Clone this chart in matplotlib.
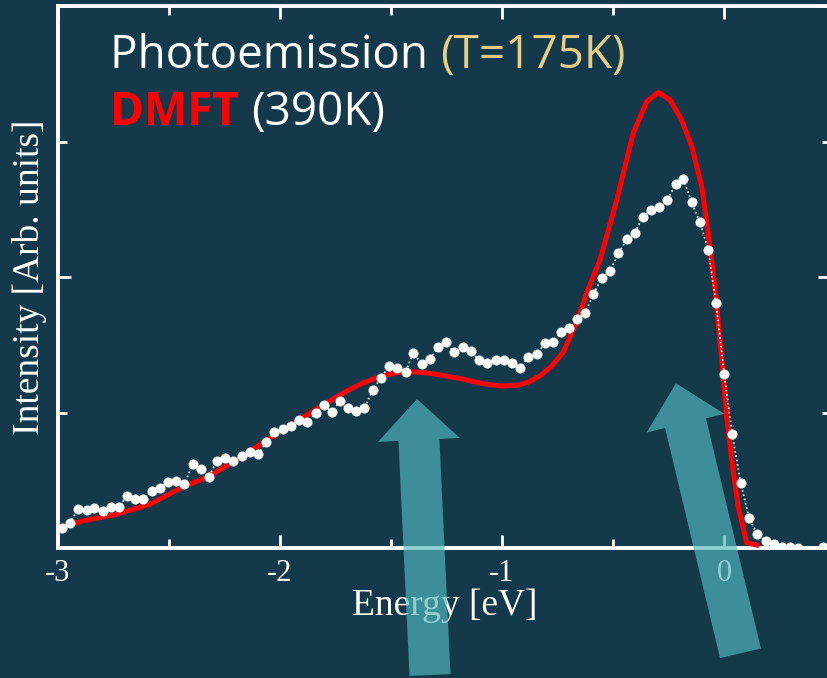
import matplotlib
matplotlib.use('Agg')
import matplotlib.pyplot as plt
from matplotlib.patches import FancyArrow
from matplotlib.transforms import IdentityTransform
from matplotlib.ticker import MultipleLocator, NullFormatter

# photoemission data (T=175K)
energy_pes = [-2.983, -2.946, -2.909, -2.871, -2.836, -2.799, -2.761, -2.725,
              -2.691, -2.653, -2.616, -2.578, -2.541, -2.503, -2.468, -2.431,
              -2.393, -2.356, -2.320, -2.285, -2.248, -2.210, -2.173, -2.135,
              -2.098, -2.063, -2.026, -1.988, -1.952, -1.914, -1.877, -1.839,
              -1.802, -1.767, -1.730, -1.692, -1.658, -1.620, -1.582, -1.545,
              -1.509, -1.472, -1.434, -1.400, -1.362, -1.324, -1.288, -1.252,
              -1.215, -1.177, -1.140, -1.104, -1.066, -1.028, -0.991, -0.956,
              -0.919, -0.882, -0.844, -0.806, -0.772, -0.734, -0.697, -0.662,
              -0.625, -0.589, -0.551, -0.514, -0.476, -0.438, -0.401, -0.366,
              -0.330, -0.293, -0.255, -0.218, -0.183, -0.146, -0.108, -0.071,
              -0.036, 0.001, 0.037, 0.075, 0.113, 0.150, 0.188, 0.225,
              0.263, 0.297, 0.335, 0.372, 0.410, 0.444]
intensity_pes = [0.145, 0.187, 0.288, 0.280, 0.293, 0.275, 0.305, 0.300,
                 0.384, 0.362, 0.359, 0.423, 0.443, 0.489, 0.497, 0.472,
                 0.618, 0.581, 0.526, 0.644, 0.664, 0.644, 0.677, 0.711,
                 0.692, 0.780, 0.854, 0.878, 0.903, 0.945, 0.932, 0.999,
                 1.055, 1.001, 1.087, 1.035, 1.009, 1.035, 1.166, 1.257,
                 1.343, 1.331, 1.301, 1.441, 1.358, 1.393, 1.486, 1.518,
                 1.444, 1.481, 1.452, 1.387, 1.368, 1.387, 1.387, 1.368,
                 1.326, 1.412, 1.430, 1.511, 1.523, 1.592, 1.621, 1.688,
                 1.734, 1.872, 1.993, 2.044, 2.175, 2.278, 2.327, 2.445,
                 2.494, 2.514, 2.568, 2.686, 2.723, 2.551, 2.404, 2.199,
                 1.806, 1.284, 0.839, 0.482, 0.219, 0.103, 0.054, 0.027,
                 0.010, 0.005, 0.0, -0.08, -0.08, 0.005]

# DMFT (390K)
energy_dmft = [-2.983, -2.886, -2.736, -2.586, -2.436, -2.323, -2.173, -2.030,
               -1.900, -1.805, -1.692, -1.620, -1.550, -1.480, -1.429, -1.384,
               -1.330, -1.279, -1.174, -1.090, -1.009, -0.934, -0.880, -0.829,
               -0.775, -0.724, -0.664, -0.641, -0.619, -0.559, -0.483,
               -0.409, -0.348, -0.296, -0.243, -0.191, -0.145, -0.100, -0.071,
               -0.041, -0.010, 0.012, 0.035, 0.064, 0.102, 0.147]
intensity_dmft = [0.157, 0.201, 0.249, 0.323, 0.452, 0.526, 0.674, 0.827,
                  0.960, 1.055, 1.166, 1.222, 1.264, 1.292, 1.301, 1.298,
                  1.290, 1.277, 1.245, 1.214, 1.196, 1.200, 1.225, 1.270,
                  1.345, 1.445, 1.670, 1.769, 1.880, 2.125, 2.568,
                  3.061, 3.294, 3.363, 3.306, 3.159, 2.962, 2.666, 2.323,
                  1.928, 1.387, 0.969, 0.649, 0.305, 0.039, 0.022]

x_ticks = [-3, -2, -1, 0]
x_tick_labels = ['-3', '-2', '-1', '0']

bg = '#14394a'
W, H = 828, 678

plt.rcParams['axes.unicode_minus'] = False
fig = plt.figure(figsize=(W / 100, H / 100), dpi=100, facecolor=bg)

xmin, xmax = -3, 0.48
px_per_ev = 222
ax = fig.add_axes([58 / W, (H - 548) / H, (xmax - xmin) * px_per_ev / W, 542 / H])
ax.set_facecolor(bg)
ax.set_xlim(xmin, xmax)
ax.set_ylim(0, 4)

ax.plot(energy_dmft, intensity_dmft, color='#ff0000', lw=3.6, zorder=3,
        solid_joinstyle='round')
ax.plot(energy_pes, intensity_pes, color='white', ls=':', lw=1.2,
        marker='o', ms=6.2, mec='white', mfc='white', zorder=4)

for sp in ax.spines.values():
    sp.set_color('white')
    sp.set_linewidth(2.8)

ax.set_xticks(x_ticks)
ax.set_xticklabels(x_tick_labels)
ax.xaxis.set_minor_locator(MultipleLocator(0.5))
ax.yaxis.set_major_locator(MultipleLocator(2))
ax.yaxis.set_minor_locator(MultipleLocator(1))
ax.yaxis.set_major_formatter(NullFormatter())
ax.tick_params(which='both', direction='in', colors='white', width=2,
               top=True, right=True, labelsize=22, pad=8)
ax.tick_params(which='major', length=9.5)
ax.tick_params(which='minor', length=6.5)
for lab in ax.get_xticklabels():
    lab.set_family('Liberation Serif')

ax.set_xlabel('Energy [eV]', family='Liberation Serif', fontsize=27,
              color='white', labelpad=0)
ax.set_ylabel('Intensity [Arb. units]', family='Liberation Serif', fontsize=27,
              color='white', labelpad=0)

# title lines: pieces placed one after another on a shared baseline
tfont = dict(family='Open Sans', fontsize=33, va='baseline')
renderer = fig.canvas.get_renderer()


def text_row(x_px, y_px, pieces):
    x = x_px
    for s, color, weight in pieces:
        t = fig.text(x / W, 1 - y_px / H, s, color=color, fontweight=weight,
                     **tfont)
        x += t.get_window_extent(renderer).width


text_row(110, 68, [('Photoemission ', 'white', 'normal'),
                   ('(T=175K)', '#e6cd85', 'normal')])
text_row(110, 125, [('DMFT ', '#ff0000', 'bold'),
                    ('(390K)', 'white', 'normal')])

# two translucent arrows, in image pixels (top-left origin)
arrows = [
    ((430, 675), (417, 399), 41, 82, 41),
    ((740.5, 653.3), (676, 383.3), 42, 80, 41),
]
for (x0, y0), (x1, y1), w, hw, hl in arrows:
    arr = FancyArrow(x0, H - y0, x1 - x0, -(y1 - y0), width=w,
                     head_width=hw, head_length=hl,
                     length_includes_head=True,
                     transform=IdentityTransform(),
                     color='#54b9bf', alpha=0.67, lw=0, zorder=10)
    fig.add_artist(arr)

fig.savefig('out.png', dpi=100, facecolor=bg)
